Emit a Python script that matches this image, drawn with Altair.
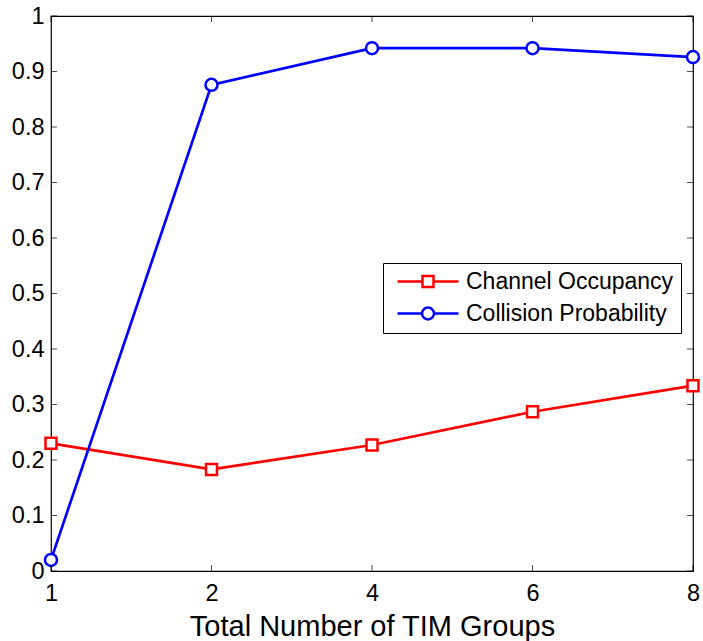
import altair as alt
import pandas as pd

groups = ["1", "2", "4", "6", "8"]
series_names = ["Channel Occupancy", "Collision Probability"]
channel_occupancy = [0.23, 0.183, 0.227, 0.287, 0.334]
collision_probability = [0.02, 0.876, 0.942, 0.942, 0.926]
y_tick_values = [0, 0.1, 0.2, 0.3, 0.4, 0.5, 0.6, 0.7, 0.8, 0.9, 1]
series_colors = ["#FF0000", "#0000FF"]
series_shapes = ["square", "circle"]

W, H = 642, 555
FONT = "Liberation Sans"

df = pd.DataFrame({
    "group": groups * 2,
    "series": [series_names[0]] * len(groups) + [series_names[1]] * len(groups),
    "value": channel_occupancy + collision_probability,
})
ytick_df = pd.DataFrame({"value": y_tick_values})
xtick_df = pd.DataFrame({"group": groups})

x_enc = alt.X(
    "group:O", sort=groups,
    scale=alt.Scale(type="point", padding=0),
    axis=alt.Axis(title="Total Number of TIM Groups", labelAngle=0, ticks=False,
                  domain=False, grid=False, labelPadding=10, titlePadding=8),
)
y_enc = alt.Y(
    "value:Q",
    scale=alt.Scale(domain=[0, 1], nice=False, zero=False),
    axis=alt.Axis(values=y_tick_values, format="~g", title=None, ticks=False,
                  domain=False, grid=False, labelPadding=7),
)

base = alt.Chart(df)

series_layers = []
for name, colr in zip(series_names, series_colors):
    sub = base.transform_filter(alt.datum.series == name)
    series_layers.append(sub.mark_line(strokeWidth=2.7, color=colr).encode(x=x_enc, y=y_enc))
for name, colr, shp in zip(series_names, series_colors, series_shapes):
    sub = base.transform_filter(alt.datum.series == name)
    series_layers.append(
        sub.mark_point(shape=shp, size=121 if shp == "square" else 144, filled=True,
                       fill="white", stroke=colr, strokeWidth=2.5, opacity=1)
        .encode(x=x_enc, y=y_enc)
    )

# legend symbols: line segment with marker (path units of 10 px)
legend_paths = [
    "M-0.4,0H2.1M3.2,0H5.7M2.1,-0.55H3.2V0.55H2.1Z",
    "M-0.4,0H2.05M3.25,0H5.7"
    "M3.25,0C3.25,0.33 2.98,0.6 2.65,0.6C2.32,0.6 2.05,0.33 2.05,0"
    "C2.05,-0.33 2.32,-0.6 2.65,-0.6C2.98,-0.6 3.25,-0.33 3.25,0Z",
]
leg = alt.Legend(
    title=None, orient="none", legendX=332, legendY=247, padding=7, rowPadding=8,
    labelOffset=53, labelFontSize=23, labelFont=FONT, labelColor="black", labelLimit=500,
    strokeColor="black", fillColor="white", cornerRadius=0,
    symbolSize=400, symbolStrokeWidth=2.5, symbolOpacity=1,
)
# legend-only layer: no rows survive the filter, the legend comes from the fixed scale domains
legend_layer = base.transform_filter("datum.value < 0").mark_point(filled=False, size=400).encode(
    x=x_enc, y=y_enc,
    color=alt.Color("series:N", scale=alt.Scale(domain=series_names, range=series_colors), legend=leg),
    shape=alt.Shape("series:N", scale=alt.Scale(domain=series_names, range=legend_paths), legend=leg),
)

tick_len = 6
yt_left = alt.Chart(ytick_df).mark_tick(orient="horizontal", size=tick_len, thickness=1, color="black").encode(
    y=y_enc, x=alt.value(tick_len / 2))
yt_right = alt.Chart(ytick_df).mark_tick(orient="horizontal", size=tick_len, thickness=1, color="black").encode(
    y=y_enc, x=alt.value(W - tick_len / 2))
xt_bottom = alt.Chart(xtick_df).mark_tick(orient="vertical", size=tick_len, thickness=1, color="black").encode(
    x=x_enc, y=alt.value(H - tick_len / 2))
xt_top = alt.Chart(xtick_df).mark_tick(orient="vertical", size=tick_len, thickness=1, color="black").encode(
    x=x_enc, y=alt.value(tick_len / 2))

chart = alt.layer(
    *series_layers, yt_left, yt_right, xt_bottom, xt_top, legend_layer
).properties(
    width=W, height=H,
    padding={"left": 51, "top": 16, "right": 10, "bottom": 70},
    autosize=alt.AutoSizeParams(type="none"),
    background="white",
).configure_view(
    stroke="black", strokeWidth=1.2,
).configure_axis(
    labelFont=FONT, labelFontSize=23.5, labelColor="black",
    titleFont=FONT, titleFontSize=29, titleFontWeight="normal", titleColor="black",
)

chart.save("out.html", embed_options={"renderer": "svg", "actions": False})
